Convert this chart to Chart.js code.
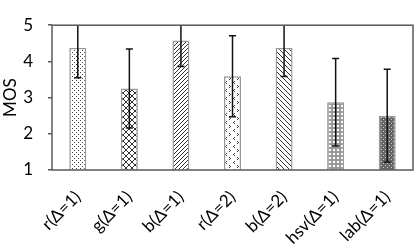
<html>
<head>
<script src="https://cdn.jsdelivr.net/npm/chart.js@4.4.1/dist/chart.umd.min.js"></script>
<style>
  body { margin: 0; padding: 0; background: #fff; }
  .chartBox { width: 415px; height: 247px; }
</style>
</head>
<body>
<div class="chartBox">
  <canvas id="myChart" width="415" height="247"></canvas>
</div>
<script>
const labels = ['r(Δ=1)', 'g(Δ=1)', 'b(Δ=1)', 'r(Δ=2)', 'b(Δ=2)', 'hsv(Δ=1)', 'lab(Δ=1)'];
const mos = [4.37, 3.25, 4.58, 3.59, 4.37, 2.87, 2.50];
const errors = [0.82, 1.09, 0.72, 1.12, 0.79, 1.21, 1.28];
const yTicks = [1, 2, 3, 4, 5];

const FONT = 'Lato, "Open Sans", sans-serif';

function makePattern(size, bg, draw) {
  const c = document.createElement('canvas');
  c.width = size; c.height = size;
  const g = c.getContext('2d');
  g.fillStyle = bg;
  g.fillRect(0, 0, size, size);
  draw(g, size);
  return g.createPattern(c, 'repeat');
}

const patterns = [
  // fine dots
  makePattern(4, '#fff', g => {
    g.fillStyle = '#444';
    g.fillRect(0, 0, 1, 1);
    g.fillRect(2, 2, 1, 1);
  }),
  // diamond crosshatch
  makePattern(6, '#fff', (g, s) => {
    g.strokeStyle = '#333'; g.lineWidth = 1;
    g.beginPath();
    g.moveTo(0, 0); g.lineTo(s, s);
    g.moveTo(s, 0); g.lineTo(0, s);
    g.stroke();
  }),
  // forward diagonal
  makePattern(4, '#fff', (g, s) => {
    g.strokeStyle = '#333'; g.lineWidth = 1;
    g.beginPath();
    g.moveTo(0, s); g.lineTo(s, 0);
    g.moveTo(-1, 1); g.lineTo(1, -1);
    g.moveTo(s - 1, s + 1); g.lineTo(s + 1, s - 1);
    g.stroke();
  }),
  // sparse chevrons
  makePattern(8, '#fff', g => {
    g.fillStyle = '#444';
    g.fillRect(2, 1, 1, 1); g.fillRect(1, 2, 1, 1); g.fillRect(2, 3, 1, 1);
    g.fillRect(5, 5, 1, 1); g.fillRect(6, 6, 1, 1); g.fillRect(5, 7, 1, 1);
  }),
  // backward diagonal
  makePattern(5, '#fff', (g, s) => {
    g.strokeStyle = '#333'; g.lineWidth = 1;
    g.beginPath();
    g.moveTo(0, 0); g.lineTo(s, s);
    g.moveTo(-1, s - 1); g.lineTo(1, s + 1);
    g.moveTo(s - 1, -1); g.lineTo(s + 1, 1);
    g.stroke();
  }),
  // light checker
  makePattern(4, '#999', g => {
    g.fillStyle = '#fff';
    g.fillRect(1, 1, 2, 2);
  }),
  // dark checker
  makePattern(4, '#666', g => {
    g.fillStyle = '#ccc';
    g.fillRect(1, 1, 1, 1);
    g.fillRect(3, 3, 1, 1);
  })
];

const errorBars = {
  id: 'errorBars',
  afterDatasetsDraw(chart) {
    const ctx = chart.ctx;
    const y = chart.scales.y;
    const meta = chart.getDatasetMeta(0);
    const area = chart.chartArea;
    ctx.save();
    ctx.beginPath();
    ctx.rect(area.left, area.top, area.right - area.left, area.bottom - area.top);
    ctx.clip();
    ctx.strokeStyle = '#111';
    ctx.lineWidth = 1.5;
    meta.data.forEach((bar, i) => {
      const yt = y.getPixelForValue(mos[i] + errors[i]);
      const yb = y.getPixelForValue(mos[i] - errors[i]);
      ctx.beginPath();
      ctx.moveTo(bar.x, yt); ctx.lineTo(bar.x, yb);
      ctx.moveTo(bar.x - 3.5, yt); ctx.lineTo(bar.x + 3.5, yt);
      ctx.moveTo(bar.x - 3.5, yb); ctx.lineTo(bar.x + 3.5, yb);
      ctx.stroke();
    });
    ctx.restore();
  }
};

const frame = {
  id: 'frame',
  afterDraw(chart) {
    const a = chart.chartArea;
    const ctx = chart.ctx;
    ctx.save();
    ctx.strokeStyle = '#595959';
    ctx.lineWidth = 1.5;
    ctx.strokeRect(a.left, a.top, a.right - a.left, a.bottom - a.top);
    ctx.restore();
  }
};

new Chart(document.getElementById('myChart'), {
  type: 'bar',
  data: {
    labels: labels,
    datasets: [{
      data: mos,
      backgroundColor: patterns,
      borderColor: '#999',
      borderWidth: 1.5,
      categoryPercentage: 1,
      barPercentage: 0.33
    }]
  },
  options: {
    responsive: false,
    animation: false,
    layout: { padding: { top: 8, right: 2, left: 0, bottom: 0 } },
    plugins: { legend: { display: false }, tooltip: { enabled: false } },
    scales: {
      x: {
        grid: { display: false },
        border: { display: false },
        ticks: {
          color: '#000',
          font: { family: FONT, size: 17 },
          minRotation: 45,
          maxRotation: 45,
          padding: 9
        },
        afterFit(scale) { scale.height = 77; }
      },
      y: {
        min: 1,
        max: 5,
        afterBuildTicks(scale) { scale.ticks = yTicks.map(v => ({ value: v })); },
        grid: { drawOnChartArea: false, drawTicks: true, tickLength: 4, color: '#595959', lineWidth: 1.5 },
        border: { display: false },
        ticks: { color: '#000', font: { family: FONT, size: 17 }, padding: 15 },
        title: { display: true, text: 'MOS', color: '#000', font: { family: FONT, size: 17 }, padding: 0 },
        afterFit(scale) { scale.width = 52; }
      }
    }
  },
  plugins: [errorBars, frame]
});
</script>
</body>
</html>
